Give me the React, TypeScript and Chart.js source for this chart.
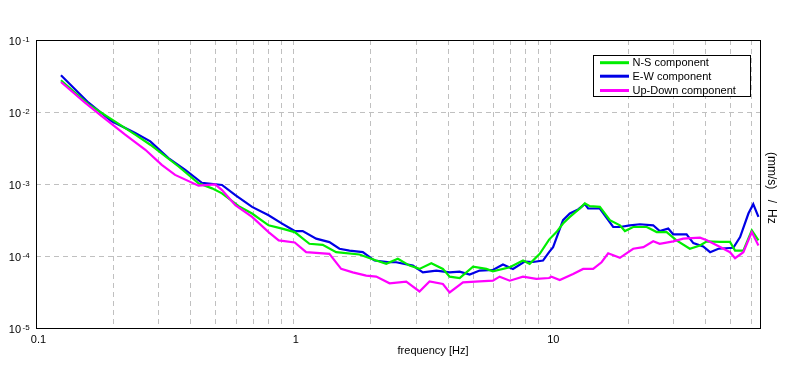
import React, { useEffect, useRef } from 'react';
import { Chart, registerables } from 'chart.js';

Chart.register(...registerables);

// ---- data ----
const NS_FREQ = [0.125, 0.160, 0.243, 0.278, 0.358, 0.428, 0.483, 0.528, 0.613, 0.691, 0.801, 0.904, 1.012, 1.154, 1.300, 1.466, 1.806, 2.098, 2.295, 2.546, 2.828, 3.09, 3.435, 3.81, 4.046, 4.426, 4.99, 5.62, 5.96, 6.93, 7.80, 8.28, 9.06, 9.85, 10.52, 11.16, 11.86, 12.97, 13.56, 14.18, 15.51, 16.97, 18.56, 19.41, 20.9, 23.6, 25.8, 28.2, 30.8, 34.7, 38.0, 40.4, 45.5, 49.7, 52.0, 56.0, 60.4, 64.1];
const NS_VALUES = [0.0276, 0.01274, 0.00484, 0.00351, 0.00175, 0.00102, 0.00087, 0.000741, 0.000492, 0.000389, 0.000267, 0.00024, 0.000215, 0.000148, 0.000143, 0.000113, 0.000105, 0.0000865, 0.0000778, 0.0000914, 0.0000736, 0.0000662, 0.0000793, 0.0000662, 0.0000517, 0.0000495, 0.0000713, 0.0000662, 0.0000613, 0.0000697, 0.0000865, 0.0000778, 0.000107, 0.000169, 0.000215, 0.000282, 0.000349, 0.000457, 0.000537, 0.000492, 0.000481, 0.000314, 0.000267, 0.000222, 0.000253, 0.000253, 0.000215, 0.000215, 0.000165, 0.000126, 0.00014, 0.00016, 0.000157, 0.000157, 0.000119, 0.000119, 0.000227, 0.000165];

const EW_FREQ = [0.125, 0.160, 0.197, 0.243, 0.278, 0.327, 0.380, 0.441, 0.528, 0.595, 0.691, 0.801, 0.904, 1.012, 1.087, 1.226, 1.380, 1.510, 1.652, 1.861, 2.066, 2.364, 2.509, 2.912, 3.185, 3.592, 4.046, 4.426, 4.84, 5.29, 5.96, 6.52, 7.13, 7.92, 8.53, 9.33, 9.85, 10.21, 11.16, 11.86, 12.77, 13.56, 13.97, 15.51, 17.48, 18.56, 20.3, 22.2, 25.0, 26.5, 28.6, 29.9, 33.7, 35.8, 39.1, 41.6, 44.8, 51.2, 54.4, 58.6, 61.2, 64.1];
const EW_VALUES = [0.0324, 0.01346, 0.00743, 0.00512, 0.00391, 0.00229, 0.00157, 0.00104, 0.00097, 0.000702, 0.000481, 0.000368, 0.000282, 0.000222, 0.000222, 0.000174, 0.000156, 0.000126, 0.000119, 0.000113, 0.0000865, 0.0000819, 0.0000819, 0.0000736, 0.0000593, 0.0000627, 0.0000593, 0.0000607, 0.0000551, 0.0000627, 0.0000641, 0.000076, 0.0000662, 0.0000838, 0.0000825, 0.0000865, 0.000113, 0.000133, 0.000314, 0.000389, 0.000443, 0.000525, 0.000457, 0.000457, 0.000253, 0.000253, 0.000267, 0.000276, 0.000267, 0.000222, 0.00024, 0.0002, 0.0002, 0.000151, 0.000136, 0.000113, 0.000126, 0.00013, 0.000183, 0.000389, 0.000525, 0.000349];

const UD_FREQ = [0.125, 0.155, 0.180, 0.222, 0.266, 0.308, 0.347, 0.428, 0.497, 0.528, 0.595, 0.691, 0.801, 0.877, 1.012, 1.121, 1.380, 1.533, 1.701, 1.918, 2.098, 2.364, 2.745, 3.09, 3.38, 3.81, 4.046, 4.56, 5.29, 5.96, 6.33, 6.93, 7.80, 8.79, 9.85, 10.06, 10.84, 12.21, 13.36, 14.61, 15.75, 16.71, 18.56, 20.9, 22.9, 25.0, 26.5, 29.9, 32.7, 38.0, 40.4, 45.5, 49.7, 52.0, 56.0, 60.4, 64.1];
const UD_VALUES = [0.0261, 0.01346, 0.00874, 0.00484, 0.00299, 0.001845, 0.001337, 0.000947, 0.00099, 0.000824, 0.000508, 0.000349, 0.000215, 0.000165, 0.000154, 0.000113, 0.000107, 0.0000662, 0.0000593, 0.0000534, 0.0000517, 0.0000417, 0.000044, 0.0000322, 0.0000444, 0.0000408, 0.0000312, 0.000043, 0.0000444, 0.0000454, 0.0000517, 0.0000454, 0.0000517, 0.000048, 0.0000495, 0.0000517, 0.0000465, 0.0000564, 0.0000662, 0.0000662, 0.0000819, 0.000109, 0.0000944, 0.000126, 0.000133, 0.00016, 0.000148, 0.00016, 0.000174, 0.00018, 0.000165, 0.000133, 0.000113, 0.0000931, 0.000113, 0.000215, 0.00014];

const SERIES_NAMES = ['N-S component', 'E-W component', 'Up-Down component'];
const SERIES_COLORS = ['#00ee00', '#0000e6', '#ff00ff'];

const X_MIN = 0.1;
const X_MAX = 65;
const X_DECADES = [0.1, 1, 10];
const X_TICK_LABELS = ['0.1', '1', '10'];
const Y_EXPONENTS = [-1, -2, -3, -4, -5];
const X_TITLE = 'frequency [Hz]';
const Y_TITLE_PARTS = ['(mm/s)', '/', 'Hz'];

const FONT = '"Liberation Sans", Arial, sans-serif';

const X_GRID: number[] = [];
X_DECADES.forEach((d) => {
  for (let m = 1; m <= 9; m++) {
    const v = d * m;
    if (v <= X_MAX + 1e-9) X_GRID.push(Math.round(v * 1000) / 1000);
  }
});
const Y_GRID = Y_EXPONENTS.map((e) => Math.pow(10, e));

const decor = {
  id: 'decor',
  afterDraw(chart: any) {
    const { ctx, chartArea } = chart;
    const xs = chart.scales.x;
    const ys = chart.scales.y;
    const { left, right, top, bottom } = chartArea;
    ctx.save();

    // frame
    ctx.strokeStyle = '#000';
    ctx.lineWidth = 1;
    ctx.setLineDash([]);
    ctx.strokeRect(Math.round(left) + 0.5, Math.round(top) + 0.5, Math.round(right - left), Math.round(bottom - top));

    ctx.fillStyle = '#000';
    // y labels with superscripts
    Y_EXPONENTS.forEach((e) => {
      const y = ys.getPixelForValue(Math.pow(10, e));
      ctx.font = `11px ${FONT}`;
      ctx.textAlign = 'right';
      ctx.textBaseline = 'alphabetic';
      ctx.fillText('10', left - 15, y + 4.5);
      ctx.font = `8px ${FONT}`;
      ctx.textAlign = 'left';
      ctx.fillText('-' + String(-e), left - 13.5, y + 1.5);
    });

    // x labels
    ctx.font = `11px ${FONT}`;
    ctx.textAlign = 'center';
    ctx.textBaseline = 'alphabetic';
    X_DECADES.forEach((v, i) => {
      const x = xs.getPixelForValue(v);
      ctx.fillText(X_TICK_LABELS[i], x + 2.5, bottom + 14.5);
    });
    ctx.fillText(X_TITLE, 433, bottom + 25.5);

    // right-side unit label, rotated
    ctx.save();
    ctx.translate(right + 11, 0);
    ctx.rotate(Math.PI / 2);
    ctx.textBaseline = 'middle';
    ctx.textAlign = 'left';
    ctx.font = `12px ${FONT}`;
    ctx.fillText(Y_TITLE_PARTS[0], 152, 0);
    ctx.textAlign = 'center';
    ctx.fillText(Y_TITLE_PARTS[1], 201.5, 0);
    ctx.textAlign = 'left';
    ctx.fillText(Y_TITLE_PARTS[2], 209, 0);
    ctx.restore();

    // legend
    const lx = 593.5, ly = 55.5, lw = 157, lh = 41;
    ctx.fillStyle = '#fff';
    ctx.fillRect(lx, ly, lw, lh);
    ctx.strokeStyle = '#000';
    ctx.lineWidth = 1;
    ctx.strokeRect(lx, ly, lw, lh);
    const rows = [62.7, 76.2, 90.5];
    SERIES_NAMES.forEach((name, i) => {
      ctx.strokeStyle = SERIES_COLORS[i];
      ctx.lineWidth = 3;
      ctx.beginPath();
      ctx.moveTo(600, rows[i]);
      ctx.lineTo(629, rows[i]);
      ctx.stroke();
      ctx.fillStyle = '#000';
      ctx.font = `11px ${FONT}`;
      ctx.textAlign = 'left';
      ctx.textBaseline = 'middle';
      ctx.fillText(name, 632.5, rows[i] + 0.5);
    });
    ctx.restore();
  },
};

export default function App() {
  const ref = useRef<HTMLCanvasElement>(null);
  useEffect(() => {
    if (!ref.current) return;
    const mk = (fr: number[], vals: number[]) => fr.map((f, i) => ({ x: f, y: vals[i] }));
    const ds = (idx: number, fr: number[], vals: number[]) => ({
      label: SERIES_NAMES[idx],
      data: mk(fr, vals),
      borderColor: SERIES_COLORS[idx],
      backgroundColor: SERIES_COLORS[idx],
      borderWidth: 2.2,
      pointRadius: 0,
      tension: 0,
      fill: false,
    });
    const chart = new Chart(ref.current, {
      type: 'line',
      data: {
        datasets: [ds(2, UD_FREQ, UD_VALUES), ds(0, NS_FREQ, NS_VALUES), ds(1, EW_FREQ, EW_VALUES)],
      },
      options: {
        responsive: false,
        animation: false,
        devicePixelRatio: 1,
        layout: { padding: { top: 40, right: 36, left: 0, bottom: 0 } },
        plugins: { legend: { display: false }, tooltip: { enabled: false } },
        scales: {
          x: {
            type: 'logarithmic',
            min: X_MIN,
            max: X_MAX,
            afterBuildTicks: (s: any) => {
              s.ticks = X_GRID.map((v) => ({ value: v }));
            },
            afterFit: (s: any) => {
              s.height = 42;
            },
            ticks: { display: false },
            grid: { color: '#c0c0c0', lineWidth: 1, drawTicks: false },
            border: { display: false, dash: [5, 4] },
          },
          y: {
            type: 'logarithmic',
            min: Y_GRID[Y_GRID.length - 1],
            max: Y_GRID[0],
            afterBuildTicks: (s: any) => {
              s.ticks = Y_GRID.map((v) => ({ value: v }));
            },
            afterFit: (s: any) => {
              s.width = 36;
            },
            ticks: { display: false },
            grid: { color: '#c0c0c0', lineWidth: 1, drawTicks: false },
            border: { display: false, dash: [5, 4] },
          },
        },
      } as any,
      plugins: [decor],
    });
    return () => chart.destroy();
  }, []);
  return (
    <div style={{ position: 'absolute', left: 0, top: 0, width: 796, height: 370, background: '#fff' }}>
      <canvas ref={ref} width={796} height={370} style={{ display: 'block' }} />
    </div>
  );
}
